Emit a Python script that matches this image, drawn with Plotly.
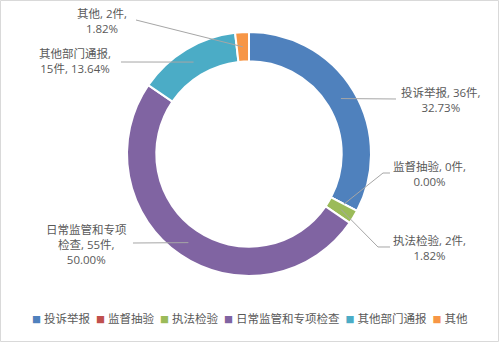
import math
import plotly.graph_objects as go

# ---- data ----
categories = ["投诉举报", "监督抽验", "执法检验", "日常监管和专项检查", "其他部门通报", "其他"]
counts = [36, 0, 2, 55, 15, 2]
colors = ["#4F81BD", "#C0504D", "#9BBB59", "#8064A2", "#4BACC6", "#F79646"]

# ---- layout constants ----
W, H = 499, 342
CX, CY, R = 249, 154, 122       # donut centre / outer radius (px)
HOLE = 0.76
FONT = "Open Sans, Noto Sans CJK SC, sans-serif"
TXT = "#595959"
LEAD = "#A6A6A6"
FS = 11.5

# label block centres (px) and leader elbow points (px)
label_pos = [(441, 100), (429, 174), (429, 248), (86, 244), (75, 61), (102, 21)]
label_elbows = [
    [(396, 99)],
    [(390, 173), (383, 173)],
    [(390, 247), (378, 247)],
    [(133, 243)],
    [(121, 62)],
    [(136, 20)],
]
attach_frac = [0.5, 0.5, 0.5, 0.5, 0.5, 0.5]


def px(x):
    return x / W


def py(y):
    return 1 - y / H


total = sum(counts)
pcts = [c / total * 100 for c in counts]


def label_text(i):
    c, n, p = categories[i], counts[i], f"{pcts[i]:.2f}%"
    if i == 3:
        return f"{c[:7]}<br>{c[7:]}, {n}件,<br>{p}"
    if i == 4:
        return f"{c},<br>{n}件, {p}"
    return f"{c}, {n}件,<br>{p}"


fig = go.Figure(
    go.Pie(
        labels=categories,
        values=counts,
        hole=HOLE,
        sort=False,
        direction="clockwise",
        rotation=0,
        marker=dict(colors=colors, line=dict(color="white", width=2)),
        textinfo="none",
        hoverinfo="label+value+percent",
        showlegend=False,
        domain=dict(x=[px(CX - R), px(CX + R)], y=[py(CY + R), py(CY - R)]),
    )
)

shapes = []
annotations = []
cum = 0
r_mid = R * (1 + HOLE) / 2
for i, n in enumerate(counts):
    ang = (cum + n * attach_frac[i]) / total * 2 * math.pi
    cum += n
    ex = CX + r_mid * math.sin(ang)
    ey = CY - r_mid * math.cos(ang)
    pts = label_elbows[i] + [(ex, ey)]
    path = "M " + " L ".join(f"{px(x):.5f},{py(y):.5f}" for x, y in pts)
    shapes.append(dict(type="path", xref="paper", yref="paper", path=path,
                       line=dict(color=LEAD, width=1)))
    lx, ly = label_pos[i]
    annotations.append(dict(
        x=px(lx), y=py(ly), xref="paper", yref="paper",
        text=label_text(i), showarrow=False, align="center",
        xanchor="center", yanchor="middle",
        font=dict(family=FONT, size=FS, color=TXT),
    ))

# legend (single centred line)
legend_text = " ".join(
    f'<span style="color:{col};font-size:9px">■</span> {cat} '
    for cat, col in zip(categories, colors)
)
annotations.append(dict(
    x=px(250), y=py(318), xref="paper", yref="paper", text=legend_text.strip(),
    showarrow=False, xanchor="center", yanchor="middle",
    font=dict(family=FONT, size=FS, color=TXT),
))

# chart border
shapes.append(dict(type="rect", xref="paper", yref="paper",
                   x0=px(0.5), x1=px(W - 0.5), y0=py(H - 0.5), y1=py(0.5),
                   line=dict(color="#D9D9D9", width=1)))

fig.update_layout(
    width=W, height=H,
    margin=dict(l=0, r=0, t=0, b=0),
    paper_bgcolor="white", plot_bgcolor="white",
    shapes=shapes, annotations=annotations,
    font=dict(family=FONT, color=TXT),
)

fig.write_html("out.html")
